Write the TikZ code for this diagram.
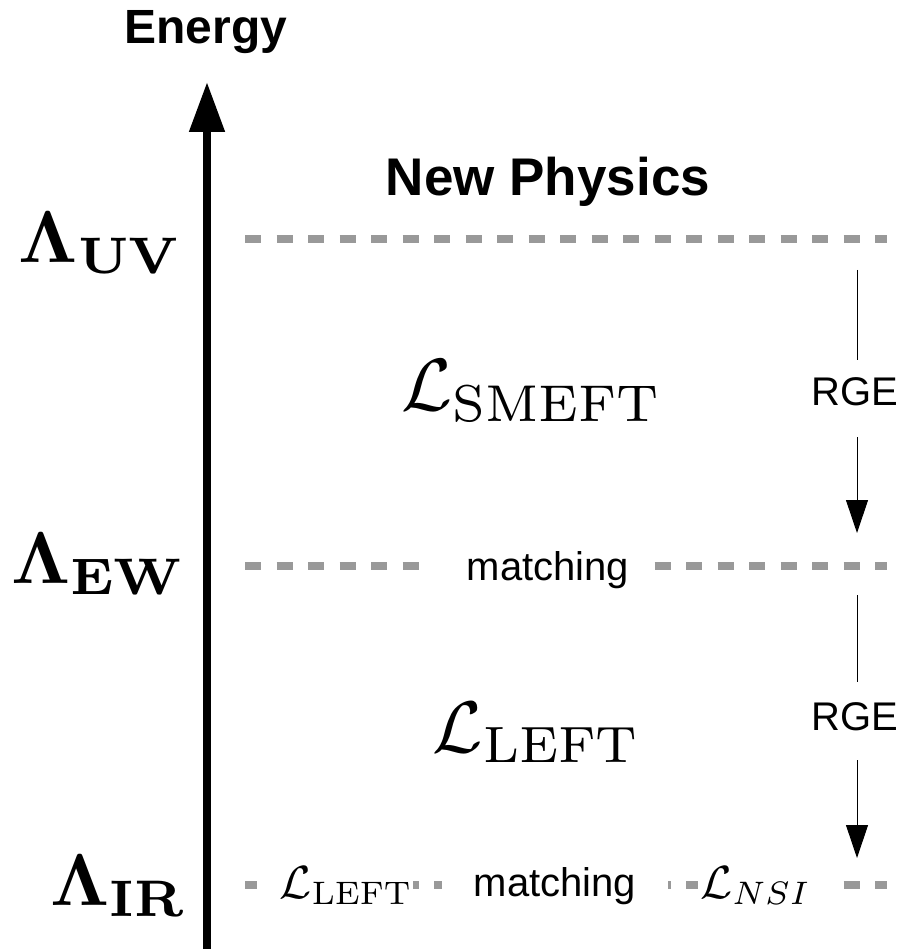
\documentclass[tikz,border=0pt]{standalone}
\usepackage[no-math]{fontspec}
\newfontfamily\arialfont{Liberation Sans}
\usetikzlibrary{arrows.meta}
\definecolor{dashgray}{HTML}{999999}
\begin{document}
\begin{tikzpicture}[x=1pt,y=-1pt,
  dashline/.style={draw=dashgray, line width=8pt, dash pattern=on 16pt off 15.5pt},
  axisline/.style={line width=8pt, -{Triangle[length=50pt,width=34pt]}},
  rgeline/.style={line width=1pt},
  rgearrow/.style={line width=1pt, -{Triangle[length=33pt,width=22pt]}},
  sanslabel/.style={inner sep=0pt, font=\arialfont\fontsize{40}{40}\selectfont},
  boldlabel/.style={inner sep=0pt, font=\arialfont\bfseries\fontsize{#1}{#1}\selectfont},
  mathlabel/.style={inner sep=0pt},
  cover/.style={fill=white, inner xsep=0pt, inner ysep=4pt}
]
\useasboundingbox (0,0) rectangle (902,949);

% energy axis
\coordinate (axbot) at (207,952);
\coordinate (axtop) at (207,82);
\draw[axisline] (axbot) -- (axtop);
\node[boldlabel=48, anchor=base] (energy) at (206,44) {Energy};

% scale labels
\node[mathlabel, anchor=base] (uv) at (101,262) {\scalebox{7.35}{$\mathbf{\Lambda_{UV}}$}};
\node[mathlabel, anchor=base] (ew) at (99,583) {\scalebox{7.35}{$\mathbf{\Lambda_{EW}}$}};
\node[mathlabel, anchor=base] (ir) at (119,905) {\scalebox{7.35}{$\mathbf{\Lambda_{IR}}$}};

% New physics
\node[boldlabel=53, anchor=base] (np) at (548,196) {New Physics};

% UV line
\coordinate (uvL) at (245,239);
\coordinate (uvR) at (887,239);
\draw[dashline] (uvL) -- (uvR);

% SMEFT
\node[mathlabel, anchor=base] (smeft) at (532,410) {\scalebox{7.4}{$\mathcal{L}_{\mathrm{SMEFT}}$}};

% RGE 1
\coordinate (r1a) at (857,270);
\coordinate (r1b) at (857,360);
\coordinate (r1c) at (857,437);
\coordinate (r1d) at (857,533);
\node[sanslabel, anchor=base] (rge1) at (855,405) {RGE};
\draw[rgeline] (r1a) -- (r1b);
\draw[rgearrow] (r1c) -- (r1d);

% EW line
\coordinate (ewL) at (245,566);
\coordinate (ewM1) at (418.5,566);
\coordinate (ewM2) at (654.5,566);
\coordinate (ewR) at (887,566);
\draw[dashline] (ewL) -- (ewM1);
\draw[dashline] (ewM2) -- (ewR);
\node[sanslabel, anchor=base] (match1) at (548,580) {matching};

% LEFT
\node[mathlabel, anchor=base] (left) at (537,752) {\scalebox{7.3}{$\mathcal{L}_{\mathrm{LEFT}}$}};

% RGE 2
\coordinate (r2a) at (857,595);
\coordinate (r2b) at (857,682);
\coordinate (r2c) at (857,760);
\coordinate (r2d) at (857,858);
\node[sanslabel, anchor=base] (rge2) at (855,730) {RGE};
\draw[rgeline] (r2a) -- (r2b);
\draw[rgearrow] (r2c) -- (r2d);

% IR line
\coordinate (irL) at (245,885);
\coordinate (irR) at (887,885);
\draw[dashline] (irL) -- (irR);
\node[mathlabel, cover, anchor=base east, text width=156pt, align=right] (leftb) at (413,898) {\scalebox{4.65}{$\mathcal{L}_{\mathrm{LEFT}}$}\hspace*{4pt}};
\node[sanslabel, cover, anchor=base, text width=226pt, align=center] (match2) at (555,896) {matching};
\node[mathlabel, cover, anchor=base west, text width=140pt, align=left] (nsi) at (698,898) {\hspace*{2pt}\scalebox{4.65}{$\mathcal{L}_{NSI}$}};
\end{tikzpicture}
\end{document}
